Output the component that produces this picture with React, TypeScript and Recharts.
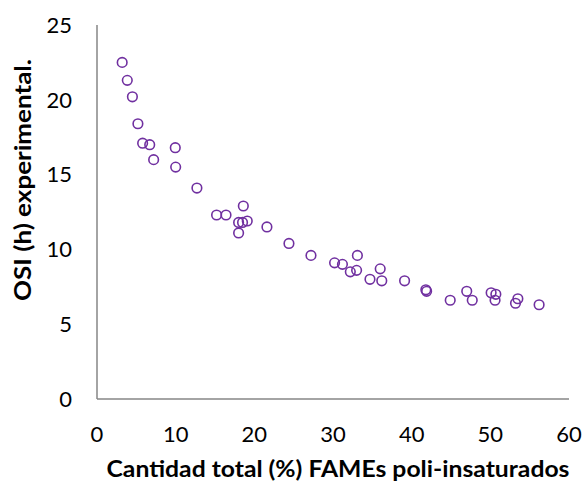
import React from "react";
import { ScatterChart, Scatter, XAxis, YAxis } from "recharts";

const fameTotal = [
  3.2, 3.85, 4.5, 5.2, 5.8, 6.7, 7.2, 9.95, 10.0, 12.7, 15.2, 16.4, 18.6, 18.0, 18.5, 19.1, 18.0, 21.6,
  24.4, 27.2, 30.2, 31.2, 33.1, 32.2, 33.0, 36.0, 34.7, 36.2, 39.1, 41.8, 41.9, 44.9, 47.0, 47.7, 50.1,
  50.7, 50.6, 53.5, 53.2, 56.2,
];
const osiHours = [
  22.5, 21.3, 20.2, 18.4, 17.1, 17.0, 16.0, 16.8, 15.5, 14.1, 12.3, 12.3, 12.9, 11.8, 11.8, 11.9, 11.1, 11.5,
  10.4, 9.6, 9.1, 9.0, 9.6, 8.5, 8.6, 8.7, 8.0, 7.9, 7.9, 7.3, 7.2, 6.6, 7.2, 6.6, 7.1,
  7.0, 6.6, 6.7, 6.4, 6.3,
];
const xTicks = [0, 10, 20, 30, 40, 50, 60];
const yTicks = [0, 5, 10, 15, 20, 25];

const data = fameTotal.map((x, i) => ({ x, y: osiHours[i] }));

const COLOR = "#7030A0";
const AXIS = "#868686";
const FONT = "Lato, 'Open Sans', sans-serif";

const OpenCircle = (props: any) => {
  const { cx, cy } = props;
  if (cx == null || cy == null) return null;
  return <circle cx={cx} cy={cy} r={4.8} fill="none" stroke={COLOR} strokeWidth={1.6} />;
};

const XTitle = () => (
  <text
    x={338}
    y={477}
    textAnchor="middle"
    fontFamily={FONT}
    fontWeight="bold"
    fontSize={23}
    fill="#000"
    textLength={463}
    lengthAdjust="spacingAndGlyphs"
  >
    Cantidad total (%) FAMEs poli-insaturados
  </text>
);

const YTitle = () => (
  <text
    x={31}
    y={180}
    transform="rotate(-90 31 180)"
    textAnchor="middle"
    fontFamily={FONT}
    fontWeight="bold"
    fontSize={23}
    fill="#000"
    textLength={242}
    lengthAdjust="spacingAndGlyphs"
  >
    OSI (h) experimental.
  </text>
);

export default function App() {
  return (
    <div style={{ position: "absolute", left: 0, top: 0, width: 583, height: 485, background: "#fff" }}>
      <ScatterChart width={583} height={485} margin={{ top: 25, right: 14, bottom: 0, left: 0 }}>
        <XAxis
          type="number"
          dataKey="x"
          domain={[0, 60]}
          ticks={xTicks}
          interval={0}
          height={86}
          tickLine={false}
          tickSize={0}
          tickMargin={27}
          axisLine={{ stroke: AXIS, strokeWidth: 1.5 }}
          tick={{ fill: "#000", fontSize: 22, fontFamily: FONT }}
          label={{ content: () => <XTitle /> }}
        />
        <YAxis
          type="number"
          dataKey="y"
          domain={[0, 25]}
          ticks={yTicks}
          interval={0}
          width={97}
          tickLine={false}
          tickSize={0}
          tickMargin={25}
          axisLine={{ stroke: AXIS, strokeWidth: 1.5 }}
          tick={{ fill: "#000", fontSize: 22, fontFamily: FONT }}
          label={{ content: () => <YTitle /> }}
        />
        <Scatter data={data} shape={<OpenCircle />} isAnimationActive={false} />
      </ScatterChart>
    </div>
  );
}
